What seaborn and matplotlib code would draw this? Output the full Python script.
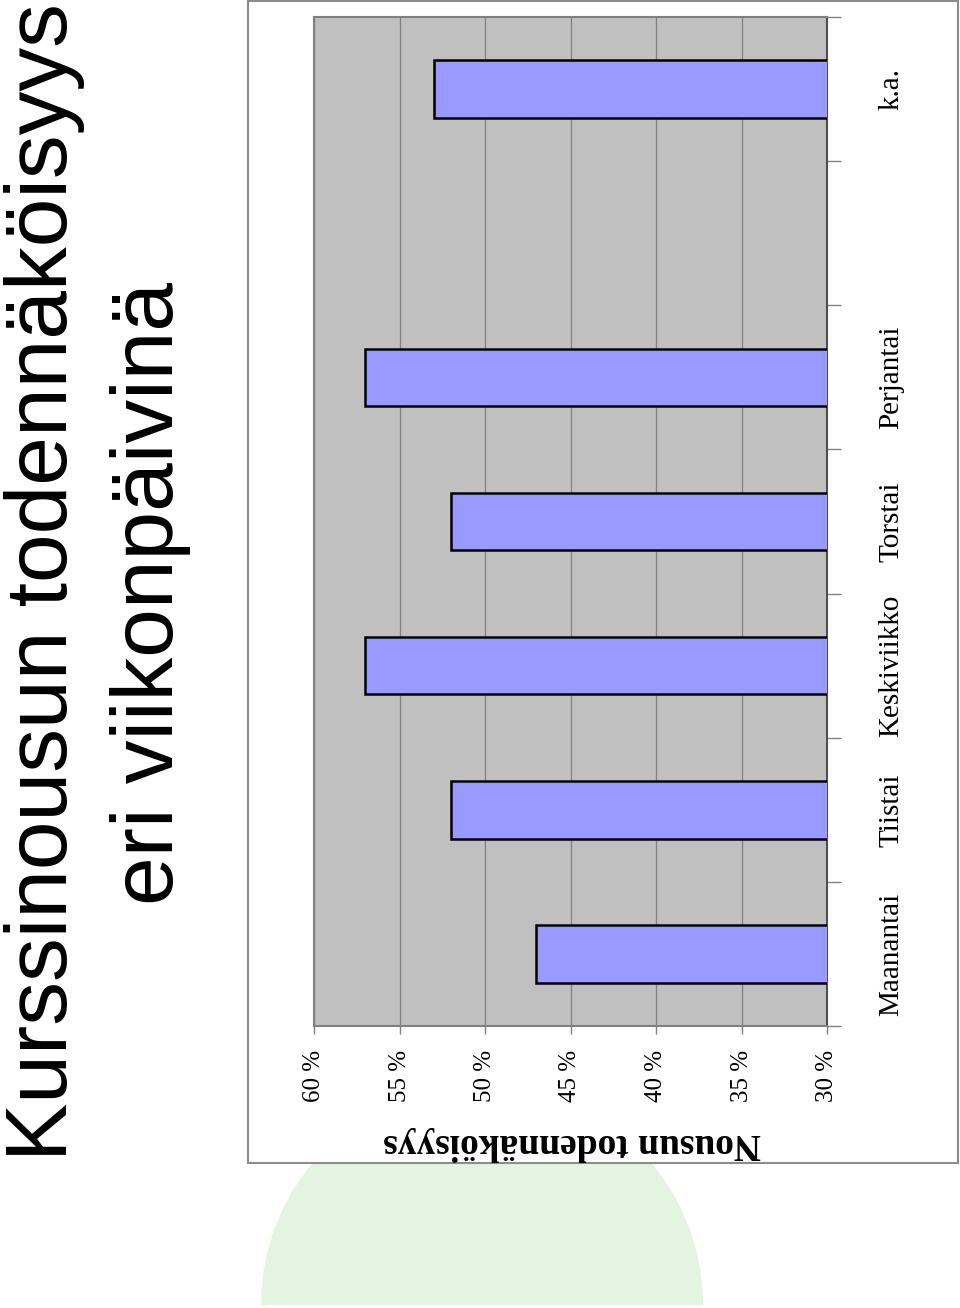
import matplotlib
matplotlib.use("Agg")
import matplotlib.pyplot as plt
from matplotlib.patches import Rectangle, Wedge
import seaborn as sns
import pandas as pd
import numpy as np

# ---- data ----
days = ["Maanantai", "Tiistai", "Keskiviikko", "Torstai", "Perjantai", "k.a."]
values = [47, 52, 57, 52, 57, 53]
order = ["k.a.", " ", "Perjantai", "Torstai", "Keskiviikko", "Tiistai", "Maanantai"]
ticks = [30, 35, 40, 45, 50, 55, 60]
tick_labels = ["30 %", "35 %", "40 %", "45 %", "50 %", "55 %", "60 %"]
title_lines = ["Kurssinousun todennäköisyys", "eri viikonpäivinä"]
axis_label = "Nousun todennäköisyys"

df = pd.DataFrame({"day": days, "value": values})

sns.set_theme(style="white")
plt.rcParams["font.family"] = ["Liberation Serif", "DejaVu Serif"]
plt.rcParams["text.color"] = "black"
plt.rcParams["xtick.color"] = "black"
plt.rcParams["ytick.color"] = "black"

W, H = 960, 1308
fig = plt.figure(figsize=(W / 100, H / 100), dpi=100)

# background layer in pixel coordinates
bg = fig.add_axes([0, 0, 1, 1], zorder=0)
bg.set_xlim(0, W)
bg.set_ylim(H, 0)
bg.axis("off")
bg.add_patch(Wedge((482, 1305), 221, 180, 360, facecolor="#E3F4E1", edgecolor="none"))
bg.add_patch(Rectangle((248, 1), 710, 1162, facecolor="white", edgecolor="#8c8c8c", lw=1.5))

# chart axes
left, right, top, bottom = 314, 827, 17, 1026
ax = fig.add_axes([left / W, 1 - bottom / H, (right - left) / W, (bottom - top) / H], zorder=1)
ax.set_facecolor("#C0C0C0")

sns.barplot(data=df, x="value", y="day", order=order, orient="h", ax=ax,
            color="#9999FF", saturation=1, edgecolor="black", linewidth=1.8,
            width=0.4, zorder=3)

ax.set_xlim(60, 30)
ax.set_ylim(6.5, -0.5)
ax.set_xticks(ticks)
ax.set_xticklabels(tick_labels, rotation=90, fontsize=18, color="black")
ax.grid(axis="x", color="#808080", lw=0.9, zorder=1)
ax.set_axisbelow(True)
ax.tick_params(axis="x", bottom=True, direction="out", length=6, width=1,
               color="#808080", pad=11, labelcolor="black")

# category axis on the right
ax.yaxis.tick_right()
ax.set_yticks(range(len(order)))
ax.set_yticklabels(order, fontsize=21, color="black")
ax.set_yticks(np.arange(-0.5, len(order), 1.0), minor=True)
ax.tick_params(axis="y", which="major", right=True, left=False, length=0, pad=37,
               labelcolor="black")
ax.tick_params(axis="y", which="minor", right=True, left=False, length=10, width=1,
               color="#808080", direction="out")
for lab in ax.get_yticklabels():
    lab.set_rotation(90)
    lab.set_va("center")
    lab.set_ha("left")

ax.set_xlabel("")
ax.set_ylabel("")
for side in ["left", "top", "bottom"]:
    ax.spines[side].set_color("#808080")
    ax.spines[side].set_linewidth(1.5)
ax.spines["right"].set_color("#505050")
ax.spines["right"].set_linewidth(1.5)

# axis title (upside down, as in the rotated slide)
fig.text(572 / W, 1 - 1143 / H, axis_label, rotation=180, ha="center", va="center",
         fontsize=27, fontweight="bold", color="black",
         family=["Liberation Serif", "DejaVu Serif"])

# slide title (rotated)
fig.text(67 / W, 1 - 582 / H, title_lines[0], rotation=90, rotation_mode="anchor",
         ha="center", va="baseline", fontsize=63, color="black",
         family=["Liberation Sans", "DejaVu Sans"])
fig.text(173 / W, 1 - 593 / H, title_lines[1], rotation=90, rotation_mode="anchor",
         ha="center", va="baseline", fontsize=63, color="black",
         family=["Liberation Sans", "DejaVu Sans"])

fig.savefig("out.png", dpi=100)
